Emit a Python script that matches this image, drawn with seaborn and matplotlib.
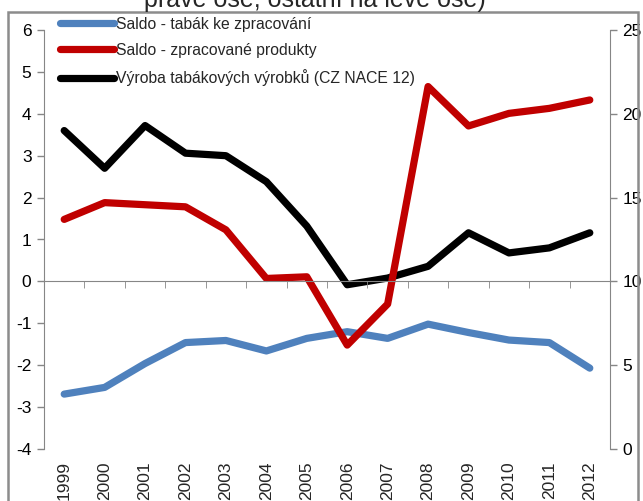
import numpy as np
import pandas as pd
import seaborn as sns
import matplotlib.pyplot as plt
from matplotlib.patches import Rectangle
from matplotlib.lines import Line2D

# data
years = [1999, 2000, 2001, 2002, 2003, 2004, 2005, 2006, 2007, 2008, 2009, 2010, 2011, 2012]
saldo_tabak = [-2.69, -2.53, -1.96, -1.46, -1.41, -1.66, -1.36, -1.20, -1.36, -1.02, -1.22, -1.40, -1.46, -2.07]
saldo_produkty = [1.48, 1.88, 1.83, 1.78, 1.23, 0.07, 0.11, -1.52, -0.54, 4.65, 3.71, 4.01, 4.13, 4.33]
vyroba = [19.0, 16.75, 19.3, 17.65, 17.5, 15.95, 13.3, 9.8, 10.2, 10.9, 12.9, 11.7, 12.0, 12.9]

labels = ['Saldo - tabák ke zpracování', 'Saldo - zpracované produkty',
          'Výroba tabákových výrobků (CZ NACE 12)']
colors = ['#4F81BD', '#C00000', '#000000']

df = pd.DataFrame({'rok': years, 'tabak': saldo_tabak,
                   'produkty': saldo_produkty, 'vyroba': vyroba})

sns.set_style('white')
plt.rcParams['font.family'] = ['Liberation Sans', 'DejaVu Sans']
plt.rcParams['axes.unicode_minus'] = False
gray = '#868686'

fig = plt.figure(figsize=(6.43, 5.01), dpi=100)
ax = fig.add_axes([44 / 643, 1 - 449 / 501, (610 - 44) / 643, 419 / 501])
ax2 = ax.twinx()

lw = 5.2
sns.lineplot(data=df, x='rok', y='tabak', ax=ax, color=colors[0], linewidth=lw)
sns.lineplot(data=df, x='rok', y='produkty', ax=ax, color=colors[1], linewidth=lw)
sns.lineplot(data=df, x='rok', y='vyroba', ax=ax2, color=colors[2], linewidth=lw)
ax.set_zorder(ax2.get_zorder() + 1)
ax.patch.set_visible(False)

ax.set_xlim(years[0] - 0.5, years[-1] + 0.5)
ax.set_ylim(-4, 6)
ax2.set_ylim(0, 25)
ax.set_yticks(range(-4, 7))
ax2.set_yticks(range(0, 26, 5))
ax.set_xlabel('')
ax.set_ylabel('')
ax2.set_ylabel('')

for a in (ax, ax2):
    for s in a.spines.values():
        s.set_visible(False)
    a.tick_params(colors=gray, labelcolor='black', labelsize=12.5, length=5, width=1)

ax.spines['left'].set_visible(True)
ax.spines['left'].set_color(gray)
ax2.spines['right'].set_visible(True)
ax2.spines['right'].set_color(gray)
ax.tick_params(axis='y', left=True, right=False, pad=4)
ax2.tick_params(axis='y', right=True, left=False, pad=4)

# zero line with category boundary ticks
ax.spines['bottom'].set_visible(True)
ax.spines['bottom'].set_position(('data', 0))
ax.spines['bottom'].set_color(gray)
ax.set_xticks(years)
ax.set_xticks([y + 0.5 for y in years[:-1]], minor=True)
ax.tick_params(axis='x', which='major', length=0, labelbottom=False)
ax.tick_params(axis='x', which='minor', bottom=True, length=5, color=gray, direction='out')
ax2.tick_params(axis='x', bottom=False, labelbottom=False)

sec = ax.secondary_xaxis('bottom')
sec.spines['bottom'].set_visible(False)
sec.set_xticks(years)
sec.set_xticklabels([str(y) for y in years], rotation=90, fontsize=12.5)
sec.tick_params(length=0, pad=9)

handles = [Line2D([0], [0], color=c, linewidth=lw) for c in colors]
leg = ax.legend(handles, labels, loc='upper left', bbox_to_anchor=(0.018, 1.047),
                frameon=False, fontsize=11.3, handlelength=3.4, handletextpad=0.15,
                labelspacing=0.72, borderaxespad=0)

# outer frame and clipped title
fig.add_artist(Rectangle((8 / 643, -0.05), 630 / 643, 1.05 - 12 / 501,
                         transform=fig.transFigure, fill=False,
                         edgecolor='#8c8c8c', linewidth=1.8))
fig.text(315 / 643, 494 / 501, 'pravé ose, ostatní na levé ose)', ha='center',
         va='baseline', fontsize=18)

fig.savefig('out.png', dpi=100)
